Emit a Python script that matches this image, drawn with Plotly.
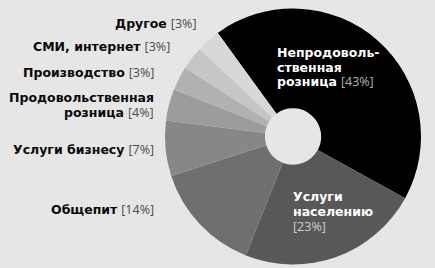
import plotly.graph_objects as go

# Data
categories = ["Непродовольственная розница", "Услуги населению", "Общепит", "Услуги бизнесу",
              "Продовольственная розница", "Производство", "СМИ, интернет", "Другое"]
shares = [43, 23, 14, 7, 4, 3, 3, 3]
label_lines = [["Непродоволь-", "ственная", "розница"], ["Услуги", "населению"], ["Общепит"],
               ["Услуги бизнесу"], ["Продовольственная", "розница"], ["Производство"],
               ["СМИ, интернет"], ["Другое"]]

colors = ["#000000", "#585858", "#6f6f6f", "#878787", "#9c9c9c", "#b1b1b1", "#c6c6c6", "#d8d8d8"]
BG = "#e6e6e6"
W, H = 435, 268
CX, CY, R = 293, 136.5, 128

fig = go.Figure(go.Pie(
    labels=categories, values=shares, sort=False, direction="clockwise",
    rotation=-36, hole=0.22, textinfo="none", hoverinfo="label+percent",
    marker=dict(colors=colors, line=dict(width=0)),
    domain=dict(x=[(CX - R) / W, (CX + R) / W], y=[(H - CY - R) / H, (H - CY + R) / H]),
    showlegend=False,
))

FONT = "DejaVu Sans"
PFONT = "Liberation Sans Narrow, Open Sans, sans-serif"
SIZE = 12.5
LEAD = 14.7

def px(x):
    return x / W

def py(y):
    return 1 - y / H

def pct(v, color):
    return ("<span style='font-family:" + PFONT + ";font-weight:normal;fill:" + color + "'>["
            + str(v) + "%]</span>")

def centres(mid, n):
    return [mid + (k - (n - 1) / 2) * LEAD for k in range(n)]

annotations = []
# outside label layout: (right x, block centre y)
outside = {2: (155, 209), 3: (155, 149), 4: (155, 105), 5: (155, 72.5), 6: (171, 46.5), 7: (197, 23.5)}
for i, (xr, mid) in outside.items():
    lines = label_lines[i]
    for j, (ln, yy) in enumerate(zip(lines, centres(mid, len(lines)))):
        txt = "<b>" + ln + "</b>"
        if j == len(lines) - 1:
            txt += " " + pct(shares[i], "#4a4a4a")
        annotations.append(dict(x=px(xr), y=py(yy), xref="paper", yref="paper", text=txt,
                                showarrow=False, xanchor="right", yanchor="middle", borderpad=0,
                                font=dict(family=FONT, size=SIZE, color="#0a0a0a")))

# inside labels: (left x, block centre y, percentage on last text line?)
inside = {0: (276, 67, True), 1: (292, 211.5, False)}
for i, (xl, mid, same_line) in inside.items():
    lines = label_lines[i]
    n = len(lines) + (0 if same_line else 1)
    ys = centres(mid, n)
    for j, ln in enumerate(lines):
        txt = "<b>" + ln + "</b>"
        if same_line and j == len(lines) - 1:
            txt += " " + pct(shares[i], "#b5b5b5")
        annotations.append(dict(x=px(xl), y=py(ys[j]), xref="paper", yref="paper", text=txt,
                                showarrow=False, xanchor="left", yanchor="middle", borderpad=0,
                                font=dict(family=FONT, size=SIZE, color="#ffffff")))
    if not same_line:
        annotations.append(dict(x=px(xl), y=py(ys[-1]), xref="paper", yref="paper",
                                text=pct(shares[i], "#d0d0d0"), showarrow=False, borderpad=0,
                                xanchor="left", yanchor="middle",
                                font=dict(family=FONT, size=SIZE, color="#d0d0d0")))

fig.update_layout(
    width=W, height=H, margin=dict(l=0, r=0, t=0, b=0),
    paper_bgcolor=BG, plot_bgcolor=BG, annotations=annotations,
)

fig.write_html("out.html", config={"displayModeBar": False},
               post_script="document.body.style.margin='0px';document.body.style.background='" + BG + "';")
